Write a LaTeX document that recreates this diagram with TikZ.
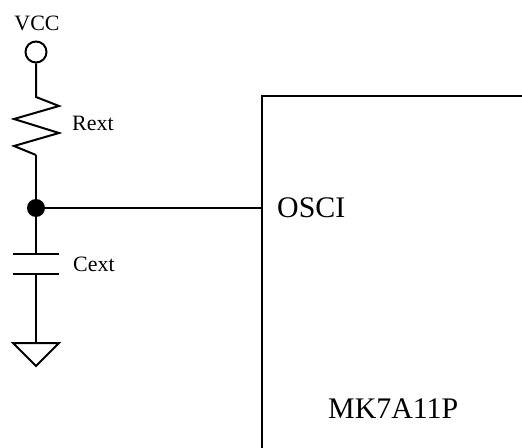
\documentclass[tikz,border=0pt]{standalone}
\usepackage{fontspec}
\setmainfont{Liberation Serif}
\usetikzlibrary{positioning,calc}

\tikzset{
  wire/.style={line width=2bp},
  smalllabel/.style={font=\fontsize{22}{24}\selectfont, inner sep=0pt},
  biglabel/.style={font=\fontsize{30}{33}\selectfont, inner sep=0pt}
}

\begin{document}
\begin{tikzpicture}[x=1bp, y=-1bp]
    \useasboundingbox (0,0) rectangle (522,448);

    % Supply terminal
    \node[circle, draw, wire, minimum size=21bp, inner sep=0pt] (vcc) at (36,52) {};
    \node[smalllabel, anchor=base] (vcclabel) at (37,31) {VCC};

    % Resistor
    \coordinate (rtop) at (36,97);
    \coordinate (rbot) at (36,155);
    \draw[wire] (vcc) -- (rtop) -- ++(23,9) -- ++(-45,13) -- ++(45,14) -- ++(-45,13) -- (rbot);
    \node[smalllabel, anchor=base west] (rext) at (72,131) {Rext};

    % Junction
    \node[circle, fill, inner sep=0pt, minimum size=18bp] (jn) at (36,208) {};

    % Capacitor
    \coordinate (ctop) at (36,254);
    \coordinate (cbot) at (36,274);
    \draw[wire] (rbot) -- (jn) -- (ctop);
    \draw[wire] ($(ctop)+(-23,0)$) -- ($(ctop)+(23,0)$);
    \draw[wire] ($(cbot)+(-23,0)$) -- ($(cbot)+(23,0)$);
    \node[smalllabel, anchor=base west] (cext) at (73,271) {Cext};

    % Ground
    \coordinate (gnd) at (36,343);
    \draw[wire] (cbot) -- (gnd);
    \draw[wire] ($(gnd)+(-23,0)$) -- ($(gnd)+(23,0)$) -- ($(gnd)+(0,23)$) -- cycle;

    % Chip
    \coordinate (chipnw) at (262,96);
    \coordinate (osci) at (262,208);
    \draw[wire] (262,450) -- (chipnw) -- (524,96);
    \draw[wire] (jn) -- (osci);
    \node[biglabel, anchor=base west] (oscilabel) at (277,218) {OSCI};
    \node[biglabel, anchor=base west] (chipname) at (328,418) {MK7A11P};
\end{tikzpicture}
\end{document}
